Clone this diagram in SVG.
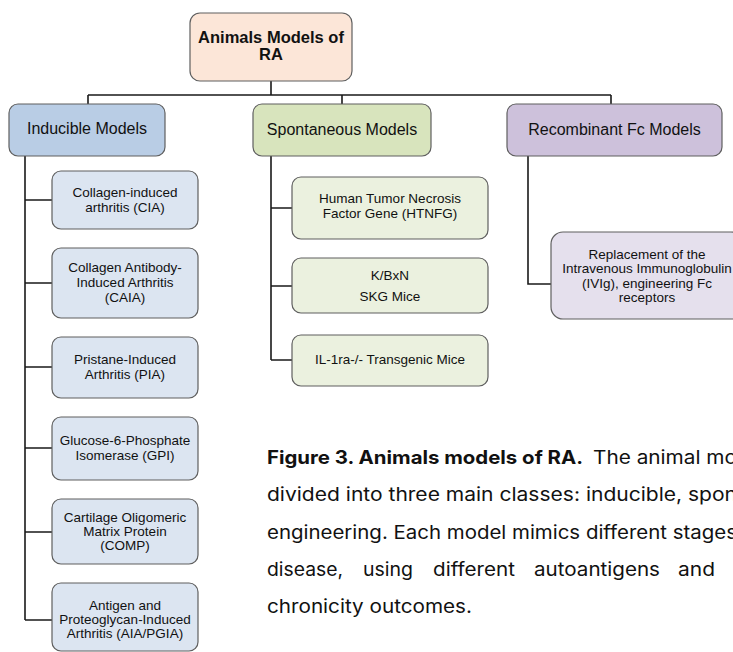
<svg xmlns="http://www.w3.org/2000/svg" width="733" height="652" viewBox="0 0 733 652">
<style>
.box{stroke:#5f5f5f;stroke-width:1.2}
.root{fill:#fce6d8}
.ind{fill:#b9cde5}
.indc{fill:#dce5f1}
.spo{fill:#d8e4bd}
.spoc{fill:#ebf1df}
.rec{fill:#cdc1db}
.recc{fill:#e5e0ed}
.t{font-family:"Liberation Sans",Arial,sans-serif;fill:#111;text-anchor:middle}
.title{font-size:16px}
.child{font-size:13.5px}
.rt{font-size:16.5px;font-weight:bold}
.line{stroke:#1a1a1a;stroke-width:1.6;fill:none}
.cap{font-family:Inter,"Open Sans",sans-serif;font-size:18.5px;fill:#111}
</style>
<rect width="733" height="652" fill="#fff"/>
<g id="connectors">
<path class="line" d="M271 81V95M88 95H611M88 95V104M342 95V104M611 95V104"/>
<path class="line" d="M25 156V620M25 200H52M25 283H52M25 367H52M25 448H52M25 532H52M25 620H52"/>
<path class="line" d="M271 156V360M271 208H292M271 286H292M271 360H292"/>
<path class="line" d="M528 156V284H551"/>
</g>
<g id="root">
<rect class="box root" x="190" y="13" width="162" height="68" rx="10"/>
<text class="t rt" x="271" y="43">Animals Models of</text>
<text class="t rt" x="271" y="60">RA</text>
</g>
<g id="inducible">
<rect class="box ind" x="9" y="104" width="156" height="52" rx="9"/>
<text class="t title" x="87" y="134">Inducible Models</text>
</g>
<g id="spontaneous">
<rect class="box spo" x="253" y="104" width="178" height="52" rx="9"/>
<text class="t title" x="342" y="135">Spontaneous Models</text>
</g>
<g id="recombinant">
<rect class="box rec" x="507" y="104" width="215" height="52" rx="9"/>
<text class="t title" x="614.5" y="135">Recombinant Fc Models</text>
</g>
<g id="cia">
<rect class="box indc" x="52" y="171" width="146" height="58" rx="9"/>
<text class="t child" x="125" y="197">Collagen-induced</text>
<text class="t child" x="125" y="212">arthritis (CIA)</text>
</g>
<g id="caia">
<rect class="box indc" x="52" y="248" width="146" height="70" rx="9"/>
<text class="t child" x="125" y="272">Collagen Antibody-</text>
<text class="t child" x="125" y="287">Induced Arthritis</text>
<text class="t child" x="125" y="302">(CAIA)</text>
</g>
<g id="pia">
<rect class="box indc" x="52" y="337" width="146" height="61" rx="9"/>
<text class="t child" x="125" y="364">Pristane-Induced</text>
<text class="t child" x="125" y="379">Arthritis (PIA)</text>
</g>
<g id="gpi">
<rect class="box indc" x="52" y="417" width="146" height="63" rx="9"/>
<text class="t child" x="125" y="445">Glucose-6-Phosphate</text>
<text class="t child" x="125" y="460">Isomerase (GPI)</text>
</g>
<g id="comp">
<rect class="box indc" x="52" y="499" width="146" height="65" rx="9"/>
<text class="t child" x="125" y="522">Cartilage Oligomeric</text>
<text class="t child" x="125" y="536">Matrix Protein</text>
<text class="t child" x="125" y="550">(COMP)</text>
</g>
<g id="aia">
<rect class="box indc" x="52" y="583" width="146" height="68" rx="9"/>
<text class="t child" x="125" y="610">Antigen and</text>
<text class="t child" x="125" y="624">Proteoglycan-Induced</text>
<text class="t child" x="125" y="638">Arthritis (AIA/PGIA)</text>
</g>
<g id="htnfg">
<rect class="box spoc" x="292" y="177" width="196" height="62" rx="9"/>
<text class="t child" x="390" y="203">Human Tumor Necrosis</text>
<text class="t child" x="390" y="218">Factor Gene (HTNFG)</text>
</g>
<g id="kbxn">
<rect class="box spoc" x="292" y="258" width="196" height="55" rx="9"/>
<text class="t child" x="390" y="280">K/BxN</text>
<text class="t child" x="390" y="301">SKG Mice</text>
</g>
<g id="il1ra">
<rect class="box spoc" x="292" y="335" width="196" height="51" rx="9"/>
<text class="t child" x="390" y="364">IL-1ra-/- Transgenic Mice</text>
</g>
<g id="ivig">
<rect class="box recc" x="551" y="232" width="192" height="87" rx="12"/>
<text class="t child" x="647" y="259">Replacement of the</text>
<text class="t child" x="647" y="273">Intravenous Immunoglobulin</text>
<text class="t child" x="647" y="288">(IVIg), engineering Fc</text>
<text class="t child" x="647" y="302">receptors</text>
</g>
<g id="caption">
<text class="cap" x="267" y="463.5" font-weight="bold" textLength="316" lengthAdjust="spacingAndGlyphs">Figure 3. Animals models of RA.</text>
<text class="cap" x="593" y="463.5" textLength="144" lengthAdjust="spacingAndGlyphs">The animal mo</text>
<text class="cap" x="267" y="501" textLength="470" lengthAdjust="spacingAndGlyphs">divided into three main classes: inducible, spon</text>
<text class="cap" x="267" y="538.5" textLength="470" lengthAdjust="spacingAndGlyphs">engineering. Each model mimics different stages</text>
<text class="cap" x="267" y="575.5" textLength="76" lengthAdjust="spacingAndGlyphs">disease,</text>
<text class="cap" x="363" y="575.5" textLength="50" lengthAdjust="spacingAndGlyphs">using</text>
<text class="cap" x="433" y="575.5" textLength="82" lengthAdjust="spacingAndGlyphs">different</text>
<text class="cap" x="534" y="575.5" textLength="126" lengthAdjust="spacingAndGlyphs">autoantigens</text>
<text class="cap" x="678" y="575.5" textLength="37" lengthAdjust="spacingAndGlyphs">and</text>
<text class="cap" x="267" y="612.5" textLength="205" lengthAdjust="spacingAndGlyphs">chronicity outcomes.</text>
</g>
</svg>
